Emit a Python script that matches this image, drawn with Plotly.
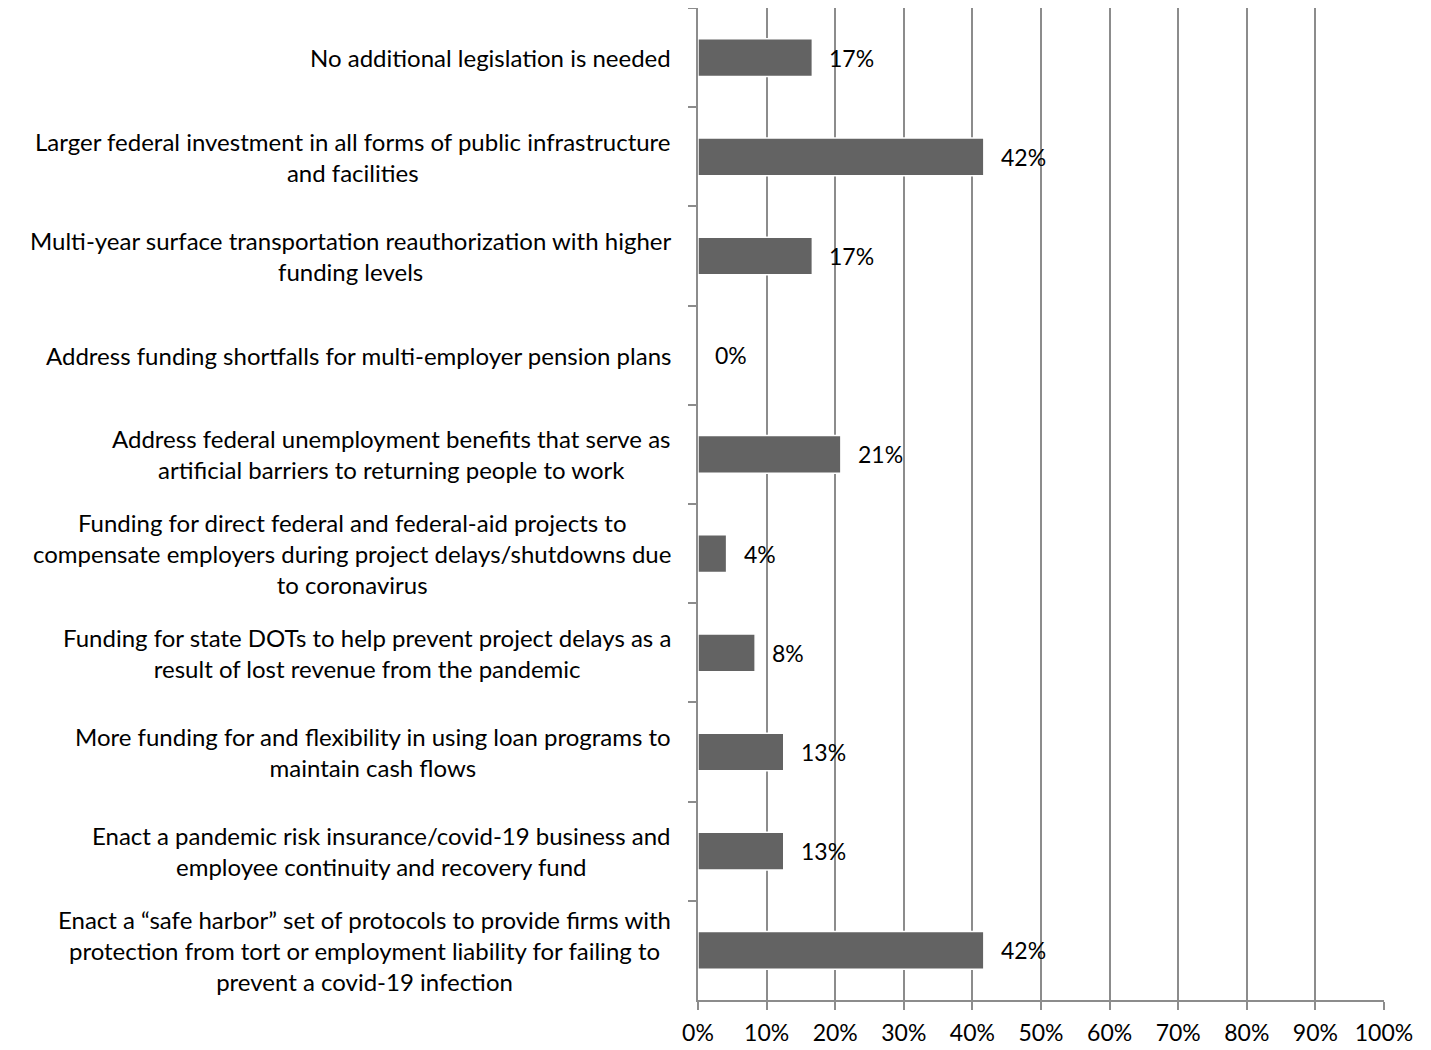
import plotly.graph_objects as go

categories = [
    "No additional legislation is needed",
    "Larger federal investment in all forms of public infrastructure<br>and facilities",
    "Multi-year surface transportation reauthorization with higher<br>funding levels",
    "Address funding shortfalls for multi-employer pension plans",
    "Address federal unemployment benefits that serve as<br>artificial barriers to returning people to work",
    "Funding for direct federal and federal-aid projects to<br>compensate employers during project delays/shutdowns due<br>to coronavirus",
    "Funding for state DOTs to help prevent project delays as a<br>result of lost revenue from the pandemic",
    "More funding for and flexibility in using loan programs to<br>maintain cash flows",
    "Enact a pandemic risk insurance/covid-19 business and<br>employee continuity and recovery fund",
    "Enact a \u201csafe harbor\u201d set of protocols to provide firms with<br>protection from tort or employment liability for failing to<br>prevent a covid-19 infection",
]
values = [16.67, 41.67, 16.67, 0.0, 20.83, 4.17, 8.33, 12.5, 12.5, 41.67]
value_labels = ["17%", "42%", "17%", "0%", "21%", "4%", "8%", "13%", "13%", "42%"]
x_ticks = [0, 10, 20, 30, 40, 50, 60, 70, 80, 90, 100]
x_tick_labels = ["0%", "10%", "20%", "30%", "40%", "50%", "60%", "70%", "80%", "90%", "100%"]

FONT = "Lato"
FS_CAT = 24
FS_NUM = 23

fig = go.Figure()
fig.add_trace(go.Bar(
    y=categories, x=values, orientation="h",
    marker=dict(color="#636363", line=dict(color="#ffffff", width=1.5)),
    width=0.38, hoverinfo="skip",
))

annotations = []
for c, v, t in zip(categories, values, value_labels):
    annotations.append(dict(x=v, y=c, xref="x", yref="y", text=t, showarrow=False,
                            xanchor="left", xshift=15, font=dict(family=FONT, size=FS_NUM, color="#000")))
    annotations.append(dict(x=0, y=c, xref="paper", yref="y", text=c, showarrow=False,
                            xanchor="right", xshift=-25, align="center",
                            font=dict(family=FONT, size=FS_CAT, color="#000")))

fig.update_layout(
    width=1431, height=1050,
    margin=dict(l=690, r=55, t=0, b=58),
    paper_bgcolor="white", plot_bgcolor="white",
    showlegend=False,
    annotations=annotations,
    font=dict(family=FONT, size=FS_NUM, color="#000"),
    xaxis=dict(range=[0, 100], tickvals=x_ticks, ticktext=x_tick_labels,
               showgrid=True, gridcolor="#8c8c8c", gridwidth=1.5,
               showline=True, linecolor="#8c8c8c", linewidth=1.5,
               ticks="outside", ticklen=8, tickcolor="#8c8c8c", tickwidth=1.5,
               ticklabelstandoff=4,
               zeroline=False, tickfont=dict(family=FONT, size=FS_NUM, color="#000")),
    yaxis=dict(type="category", autorange="reversed", showticklabels=False,
               showline=True, linecolor="#8c8c8c", linewidth=1.5,
               ticks="outside", tickson="boundaries", ticklen=8, tickcolor="#8c8c8c", tickwidth=1.5,
               showgrid=False, zeroline=False),
)

fig.write_html("out.html")
